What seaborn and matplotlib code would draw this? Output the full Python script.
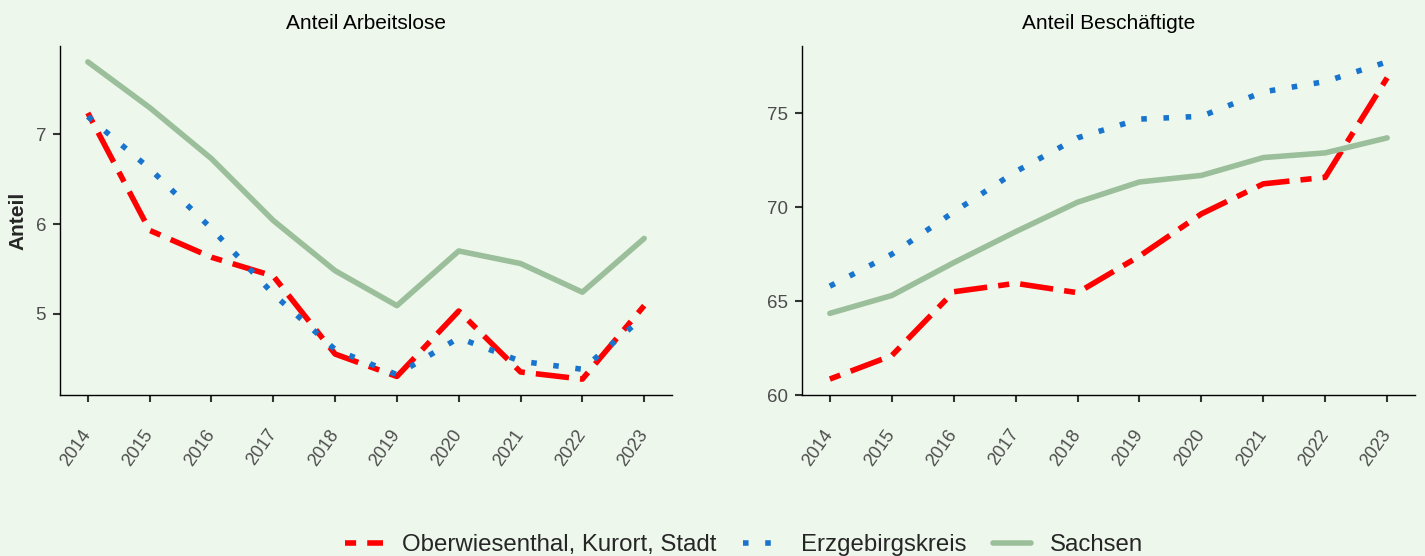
import matplotlib
matplotlib.use("Agg")
import matplotlib.pyplot as plt
from matplotlib.lines import Line2D
import seaborn as sns
import pandas as pd

years = list(range(2014, 2024))
regions = ["Oberwiesenthal, Kurort, Stadt", "Erzgebirgskreis", "Sachsen"]

# Anteil Arbeitslose
arbeitslose_owt = [7.24, 5.93, 5.63, 5.42, 4.55, 4.30, 5.03, 4.35, 4.27, 5.09]
arbeitslose_erz = [7.20, 6.62, 5.95, 5.22, 4.60, 4.32, 4.73, 4.47, 4.38, 4.97]
arbeitslose_sn = [7.81, 7.30, 6.73, 6.04, 5.48, 5.09, 5.70, 5.56, 5.24, 5.84]

# Anteil Beschaeftigte
beschaeftigte_owt = [60.85, 62.1, 65.5, 65.95, 65.45, 67.4, 69.65, 71.25, 71.6, 76.9]
beschaeftigte_erz = [65.8, 67.5, 69.75, 71.9, 73.7, 74.7, 74.85, 76.15, 76.7, 77.75]
beschaeftigte_sn = [64.35, 65.3, 67.05, 68.7, 70.27, 71.35, 71.7, 72.65, 72.9, 73.7]

panel_titles = ["Anteil Arbeitslose", "Anteil Beschäftigte"]
panel_series = [[arbeitslose_owt, arbeitslose_erz, arbeitslose_sn],
                [beschaeftigte_owt, beschaeftigte_erz, beschaeftigte_sn]]
panel_yticks = [[5, 6, 7], [60, 65, 70, 75]]

bg = "#EEF7EC"
colors = {regions[0]: "#FF0000", regions[1]: "#1874CD", regions[2]: "#9CBF9B"}
# ggplot "twodash" / "dotted" / "solid"
dashes = {regions[0]: (2, 2, 6, 2), regions[1]: (1, 3), regions[2]: ""}
lw = 4.0

sns.set_theme(style="ticks")
plt.rcParams["font.family"] = ["Liberation Sans", "DejaVu Sans"]
plt.rcParams["lines.dash_capstyle"] = "butt"

fig = plt.figure(figsize=(14.25, 5.56), dpi=100, facecolor=bg)
ax_pos = [[60 / 1425, 161 / 556, 612 / 1425, 349 / 556],
          [802 / 1425, 161 / 556, 613 / 1425, 349 / 556]]

for i, title in enumerate(panel_titles):
    rows = []
    for region, vals in zip(regions, panel_series[i]):
        for y, v in zip(years, vals):
            rows.append({"Jahr": y, "Anteil": v, "Region": region})
    df = pd.DataFrame(rows)

    ax = fig.add_axes(ax_pos[i])
    ax.set_facecolor(bg)
    sns.lineplot(data=df, x="Jahr", y="Anteil", hue="Region", style="Region",
                 palette=colors, dashes=dashes, linewidth=lw, legend=False, ax=ax)

    # ggplot-like 5% expansion
    vmin, vmax = df["Anteil"].min(), df["Anteil"].max()
    pad = (vmax - vmin) * 0.05
    ax.set_ylim(vmin - pad, vmax + pad)
    ax.set_yticks(panel_yticks[i])
    ax.set_xlim(2013.55, 2023.45)
    ax.set_xticks(years)
    ax.set_xticklabels([str(y) for y in years], rotation=55, ha="right",
                       va="center", rotation_mode="anchor")
    ax.set_title(title, fontsize=15, color="black", pad=12.5)
    ax.set_xlabel("")
    if i == 0:
        ax.set_ylabel("Anteil", fontsize=15, fontweight="bold", labelpad=6)
    else:
        ax.set_ylabel("")
    sns.despine(ax=ax)
    for s in ["left", "bottom"]:
        ax.spines[s].set_color("black")
        ax.spines[s].set_linewidth(1.0)
    ax.tick_params(axis="both", colors="#333333", labelcolor="#4D4D4D",
                   length=5, width=1.5, pad=5)
    ax.tick_params(axis="y", labelsize=13.5)
    ax.tick_params(axis="x", labelsize=13, pad=21)

handles = []
for r in regions:
    if dashes[r]:
        handles.append(Line2D([0], [0], color=colors[r], linewidth=lw, dashes=dashes[r]))
    else:
        handles.append(Line2D([0], [0], color=colors[r], linewidth=lw))
fig.legend(handles, regions, loc="center", ncol=3, frameon=False,
           fontsize=17.3, bbox_to_anchor=(744 / 1425, 1 - 545 / 556),
           handlelength=1.6, columnspacing=1.1, handletextpad=0.8)

fig.savefig("out.png", dpi=100, facecolor=bg)
